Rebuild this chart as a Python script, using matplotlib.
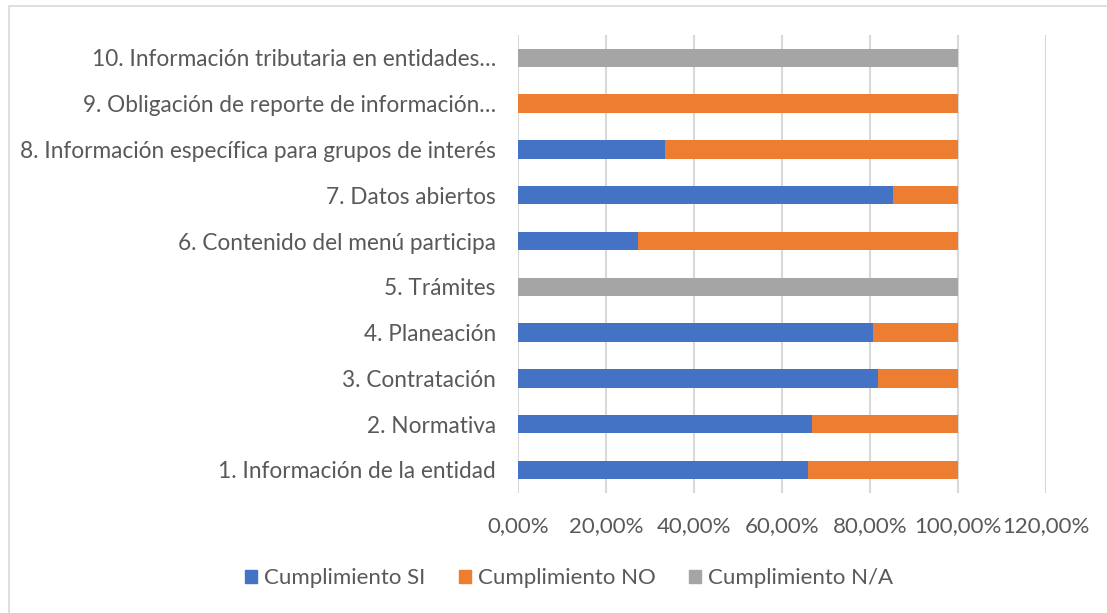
import matplotlib.pyplot as plt
from matplotlib.patches import Patch, Rectangle
from matplotlib.ticker import FuncFormatter

categorias = ["1. Información de la entidad", "2. Normativa", "3. Contratación",
              "4. Planeación", "5. Trámites", "6. Contenido del menú participa",
              "7. Datos abiertos", "8. Información específica para grupos de interés",
              "9. Obligación de reporte de información…",
              "10. Información tributaria en entidades…"]
si = [0.658, 0.667, 0.818, 0.8075, 0.0, 0.2727, 0.852, 0.3333, 0.0, 0.0]
no = [0.342, 0.333, 0.182, 0.1925, 0.0, 0.7273, 0.148, 0.6667, 1.0, 0.0]
na = [0.0, 0.0, 0.0, 0.0, 1.0, 0.0, 0.0, 0.0, 0.0, 1.0]
series = ["Cumplimiento SI", "Cumplimiento NO", "Cumplimiento N/A"]
colores = ["#4472C4", "#ED7D31", "#A5A5A5"]
xticks = [0, 0.2, 0.4, 0.6, 0.8, 1.0, 1.2]

txt = "#595959"
plt.rcParams['font.family'] = ['Lato', 'DejaVu Sans']

fig = plt.figure(figsize=(11.07, 6.13), dpi=100)
ax = fig.add_axes([0.468, 0.196, 0.477, 0.747])

y = range(len(categorias))
left = [0] * len(categorias)
for vals, nombre, c in zip([si, no, na], series, colores):
    ax.barh(y, vals, left=left, height=0.4, color=c, label=nombre, zorder=3)
    left = [a + b for a, b in zip(left, vals)]

ax.set_xlim(0, 1.2)
ax.set_ylim(-0.5, len(categorias) - 0.5)
ax.set_xticks(xticks)
ax.xaxis.set_major_formatter(FuncFormatter(lambda v, p: f"{v*100:.2f}%".replace(".", ",")))
ax.set_yticks(list(y))
ax.set_yticklabels(categorias)
ax.tick_params(axis='both', length=0, labelsize=16, colors=txt)
ax.tick_params(axis='y', pad=16, labelsize=16.3)
ax.tick_params(axis='x', pad=17)
ax.grid(axis='x', color="#D9D9D9", linewidth=1.5, zorder=0)
for s in ax.spines.values():
    s.set_visible(False)

handles = [Patch(color=c, label=n) for c, n in zip(colores, series)]
fig.legend(handles=handles, loc='center', bbox_to_anchor=(0.514, 0.057), ncol=3,
           frameon=False, fontsize=16, labelcolor=txt, handlelength=0.55,
           handleheight=0.55, handletextpad=0.3, columnspacing=1.5)

fig.patches.append(Rectangle((9 / 1107, -0.01), 1.1, 1 - 6 / 613 + 0.01,
                             transform=fig.transFigure, fill=False,
                             edgecolor="#D9D9D9", linewidth=1.2))

fig.savefig("out.png", dpi=100)
